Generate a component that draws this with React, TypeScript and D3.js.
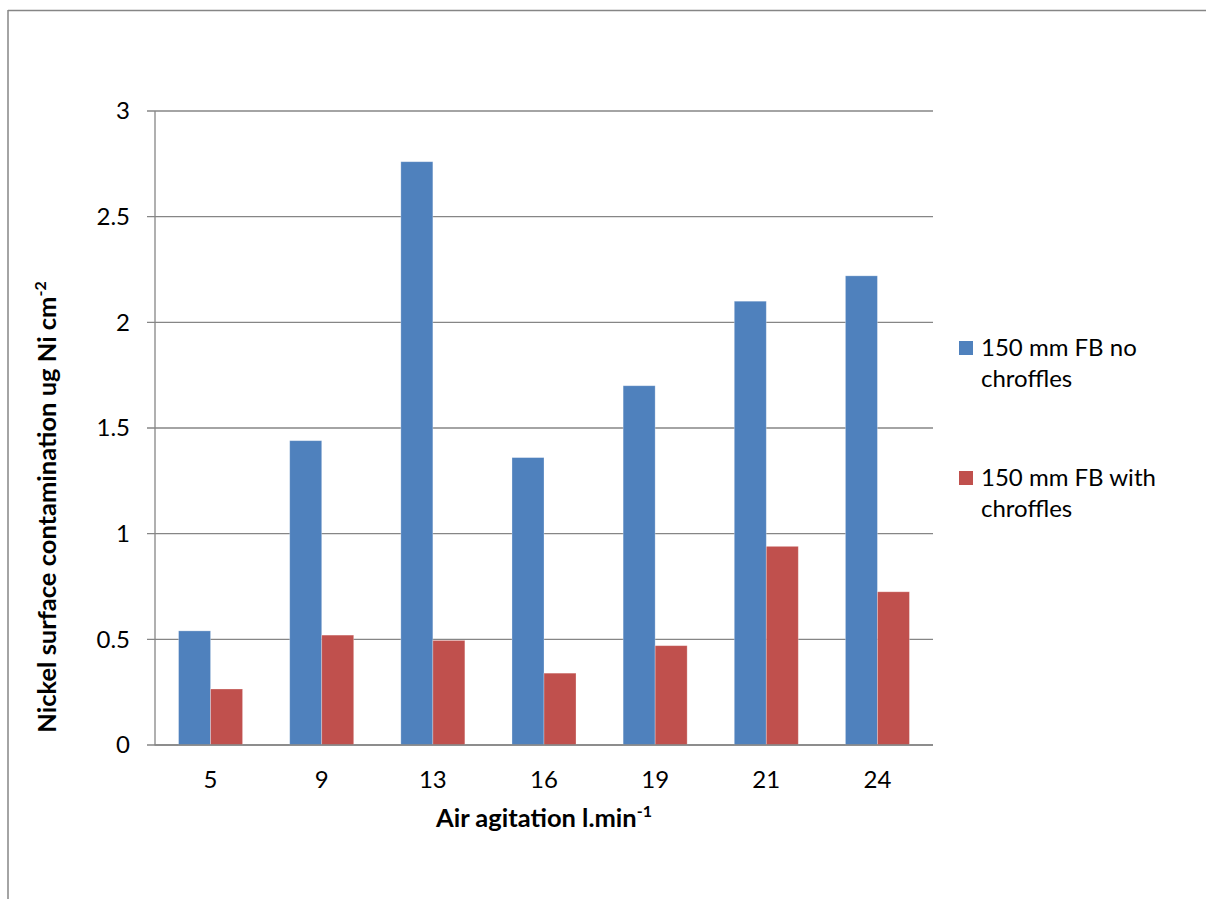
import React from "react";
import * as d3 from "d3";

// Air flow rates (l/min) along the category axis
const categories: string[] = ["5", "9", "13", "16", "19", "21", "24"];
// Nickel contamination, ug Ni cm-2, per series
const noChroffles: number[] = [0.54, 1.44, 2.76, 1.36, 1.7, 2.1, 2.22];
const withChroffles: number[] = [0.265, 0.52, 0.495, 0.34, 0.47, 0.94, 0.725];
const seriesNames: string[] = ["150 mm FB no chroffles", "150 mm FB with chroffles"];
const seriesColors: string[] = ["#4F81BD", "#C0504D"];
const yTicks: number[] = [0, 0.5, 1, 1.5, 2, 2.5, 3];

const W = 1206;
const H = 899;
const plot = { left: 155, right: 933, top: 111, bottom: 745 };
const FONT = "Lato, 'Open Sans', sans-serif";
const GRID = "#868686";

export default function App() {
  const series = [noChroffles, withChroffles];

  const x0 = d3.scaleBand<string>().domain(categories).range([plot.left, plot.right]).padding(0);
  const step = x0.step();
  const groupW = step * 0.576;
  const x1 = d3
    .scaleBand<number>()
    .domain(series.map((_, i) => i))
    .range([(step - groupW) / 2, (step + groupW) / 2])
    .padding(0);
  const y = d3.scaleLinear().domain([0, 3]).range([plot.bottom, plot.top]);

  const legendRows = [
    { name: ["150 mm FB no", "chroffles"], y: 341 },
    { name: ["150 mm FB with", "chroffles"], y: 471 },
  ];

  return (
    <svg
      width={W}
      height={H}
      viewBox={`0 0 ${W} ${H}`}
      style={{ position: "absolute", left: 0, top: 0, background: "#fff" }}
      fontFamily={FONT}
    >
      {/* outer frame */}
      <line x1={8} y1={10.5} x2={W} y2={10.5} stroke={GRID} strokeWidth={1.5} />
      <line x1={8} y1={10} x2={8} y2={H} stroke={GRID} strokeWidth={1.5} />

      {/* gridlines and y ticks */}
      {yTicks.map((t) => (
        <g key={t}>
          <line
            x1={plot.left - 8}
            x2={plot.right}
            y1={y(t)}
            y2={y(t)}
            stroke={GRID}
            strokeWidth={1.3}
          />
          <text
            x={130}
            y={y(t)}
            dy="0.35em"
            textAnchor="end"
            fontSize={24}
            fill="#000"
          >
            {d3.format("")(t)}
          </text>
        </g>
      ))}
      <line x1={plot.left} x2={plot.left} y1={plot.top} y2={plot.bottom} stroke={GRID} strokeWidth={1.3} />

      {/* bars */}
      {categories.map((c, ci) => (
        <g key={c} transform={`translate(${x0(c)},0)`}>
          {series.map((vals, si) => (
            <rect
              key={si}
              x={x1(si)}
              width={x1.bandwidth()}
              y={y(vals[ci])}
              height={y(0) - y(vals[ci])}
              fill={seriesColors[si]}
              stroke="#ffffff"
              strokeOpacity={0.35}
              strokeWidth={0.8}
            />
          ))}
          <text x={step / 2} y={788} textAnchor="middle" fontSize={24} fill="#000">
            {c}
          </text>
        </g>
      ))}

      {/* x axis line */}
      <line x1={plot.left - 0.5} x2={plot.right} y1={plot.bottom} y2={plot.bottom} stroke={GRID} strokeWidth={1.5} />

      {/* axis titles */}
      <text
        x={(plot.left + plot.right) / 2}
        y={827}
        textAnchor="middle"
        fontSize={25.5}
        fontWeight="bold"
        fill="#000"
      >
        Air agitation l.min
        <tspan fontSize={16} dy={-10}>-1</tspan>
      </text>
      <text
        transform={`translate(56,507) rotate(-90)`}
        textAnchor="middle"
        fontSize={25.5}
        fontWeight="bold"
        fill="#000"
      >
        Nickel surface contamination ug Ni cm
        <tspan fontSize={16} dy={-10}>-2</tspan>
      </text>

      {/* legend */}
      {legendRows.map((row, i) => (
        <g key={seriesNames[i]}>
          <rect x={959} y={row.y} width={14} height={14} fill={seriesColors[i]} />
          <text x={981} y={row.y + 15} fontSize={24} fill="#000">
            <tspan x={981}>{row.name[0]}</tspan>
            <tspan x={981} dy={31}>
              {row.name[1]}
            </tspan>
          </text>
        </g>
      ))}
    </svg>
  );
}
